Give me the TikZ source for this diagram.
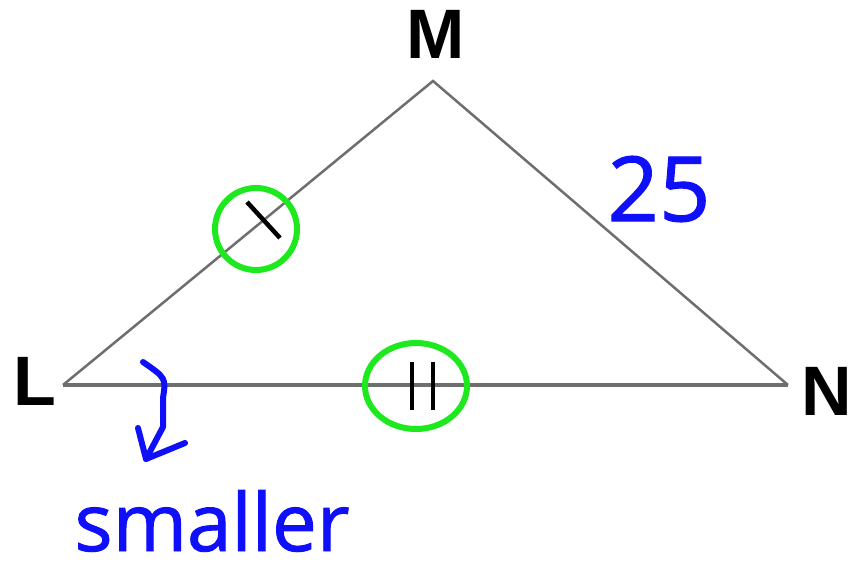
\documentclass[tikz,border=0pt]{standalone}
\usepackage{fontspec}
\setmainfont{Liberation Sans}
\newfontfamily\hand[FakeBold=1.2]{Open Sans}
\definecolor{mkgreen}{RGB}{30,232,30}
\definecolor{edgegray}{RGB}{110,110,110}
\definecolor{inkblue}{RGB}{15,15,250}
\tikzset{
  vlabel/.style={font=\fontsize{70}{70}\selectfont\bfseries, inner sep=0pt},
  side/.style={draw=edgegray, line width=2.5pt},
  ring/.style={draw=mkgreen, line width=6pt},
  tick/.style={draw=black, line width=4.5pt},
  ink/.style={draw=inkblue, line width=6pt, line cap=round, line join=round},
  inktext/.style={text=inkblue, inner sep=0pt},
}
\begin{document}
\begin{tikzpicture}[x=1pt,y=-1pt]
\useasboundingbox (0,0) rectangle (860,572);
% vertices
\coordinate (vL) at (63,385);
\coordinate (vM) at (433,81);
\coordinate (vN) at (788,385);
% labels
\node[vlabel] (M) at (436,34) {M};
\node[vlabel] (L) at (35,381) {L};
\node[vlabel] (N) at (827,391) {N};
% sides
\draw[side] (vL) -- (vM) -- (vN);
\draw[side, line width=4.5pt] (vL) -- (vN);
% marks
\draw[ring] (256,229) circle (41);
\coordinate (t1a) at (247,202);
\coordinate (t1b) at (280,238);
\draw[tick] (t1a) -- (t1b);
\draw[ring] (416,386) ellipse (51 and 43);
\coordinate (t2a) at (412,362);
\coordinate (t2b) at (412,410);
\coordinate (t3a) at (433,362);
\coordinate (t3b) at (433,410);
\draw[tick] (t2a) -- (t2b);
\draw[tick] (t3a) -- (t3b);
% blue annotations
\node[inktext, font=\hand\fontsize{90}{90}\selectfont] (n25) at (659,189) {25};
\coordinate (a0) at (143,362);
\coordinate (a1) at (163,427);
\coordinate (a2) at (146,459);
\coordinate (h1) at (138,428);
\coordinate (h2) at (185,443);
\draw[ink] (a0) .. controls (166,378) .. (163,398) -- (a1) -- (a2);
\draw[ink] (h1) -- (a2) -- (h2);
\node[inktext, font=\hand\fontsize{80}{80}\selectfont] (sm) at (212,521) {smaller};
\end{tikzpicture}
\end{document}
